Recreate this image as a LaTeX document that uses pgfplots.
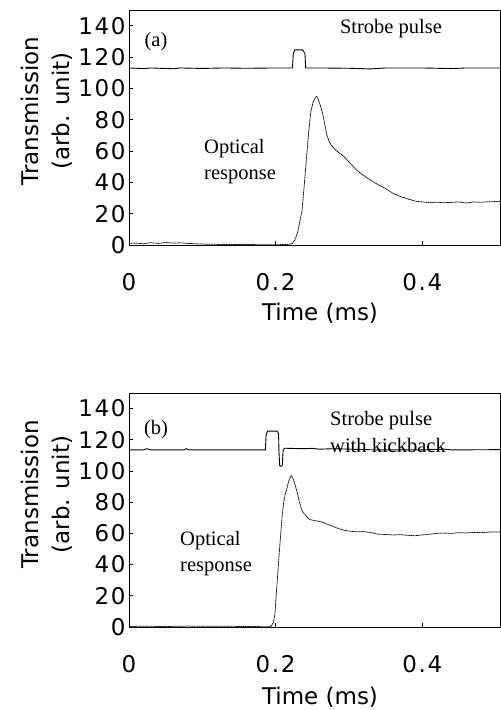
\documentclass[border=0pt]{standalone}
\usepackage{pgfplots}
\pgfplotsset{compat=1.18}
\usepackage{fontspec}
\setmainfont{DejaVu Sans}
\newfontfamily\serif{Liberation Serif}
\newfontfamily\tickfont[LetterSpace=7]{DejaVu Sans}
\newcommand\tf{\fontsize{23}{27}\selectfont}
\newcommand\tkf{\tickfont\fontsize{23}{27}\selectfont}
\newcommand\annf{\serif\fontsize{20.5}{26.5}\selectfont}

\pgfplotsset{
  panel/.style={
    anchor=south west, scale only axis,
    width=371pt,
    xmin=0, xmax=0.506, ymin=0, ymax=150,
    xtick={0,0.2,0.4}, ytick={0,20,...,140},
    xticklabels={0,0.2,0.4},
    xtick pos=bottom, ytick pos=left,
    tick align=inside, major tick length=4pt,
    axis line style={line width=0.9pt},
    tick style={line width=0.8pt, black},
    tick label style={font=\tkf},
    /pgf/number format/assume math mode=true,
    xticklabel style={yshift=-25pt},
  },
  strobe/.style={black, line width=0.9pt},
  optic/.style={black, line width=0.75pt, dash pattern=on 1.2pt off 0.5pt},
}

\begin{document}
\begin{tikzpicture}
\useasboundingbox (0,0) rectangle (501pt,710pt);

% (a)
\begin{axis}[panel, at={(129pt,465pt)}, height=235pt]
\addplot[strobe] coordinates {
(0,113) (0.02,112.6) (0.03,113) (0.06,112.5) (0.07,113) (0.1,112.7) (0.13,113)
(0.16,112.8) (0.2,113) (0.223,113) (0.224,122) (0.226,124.5) (0.237,124.5)
(0.240,122) (0.241,113) (0.26,113) (0.3,112.8) (0.33,112.4) (0.35,113) (0.4,113)
(0.44,112.6) (0.46,113) (0.506,113)
};
\addplot[optic] coordinates {
(0,1) (0.01,1.2) (0.02,0.8) (0.03,1.5) (0.04,1.0) (0.05,1.6) (0.06,1.2) (0.07,1.4)
(0.08,1.0) (0.09,0.8) (0.1,0.6) (0.12,0.4) (0.14,0.3) (0.16,0.3) (0.18,0.2) (0.2,0.2)
(0.215,0.3) (0.222,0.8) (0.226,3) (0.230,8) (0.233,15) (0.236,22) (0.239,38)
(0.242,55) (0.245,72) (0.248,85) (0.251,91) (0.254,94) (0.256,95) (0.258,93)
(0.261,89) (0.264,84) (0.267,77) (0.270,70) (0.273,66) (0.277,63) (0.281,61)
(0.286,59) (0.292,57) (0.298,54) (0.304,51) (0.31,48) (0.318,45) (0.326,42.5)
(0.334,40) (0.342,38) (0.35,36) (0.36,33) (0.37,31) (0.38,29.5) (0.39,28)
(0.40,27.5) (0.41,27) (0.42,27.3) (0.43,27) (0.44,27.2) (0.45,27.5) (0.46,26.8)
(0.47,27.5) (0.48,27.3) (0.49,27.6) (0.506,27.8)
};
\end{axis}

% (b)
\begin{axis}[panel, at={(129pt,83pt)}, height=234pt]
\addplot[strobe] coordinates {
(0,113.5) (0.02,113.5) (0.024,114.3) (0.03,113.5) (0.075,113.5) (0.078,114.3)
(0.082,113.5) (0.186,113.5) (0.187,123) (0.189,125.6) (0.202,125.6) (0.204,124)
(0.2045,113) (0.2055,103.5) (0.2075,103) (0.209,103.5) (0.2102,113) (0.212,114.6)
(0.22,114.5) (0.24,114.3) (0.25,114.5) (0.26,114) (0.28,114.3) (0.3,114)
(0.34,113.5) (0.4,113.5) (0.43,114) (0.44,113.5) (0.506,113.7)
};
\addplot[optic] coordinates {
(0,0.3) (0.02,0.5) (0.05,0.3) (0.08,0.6) (0.1,0.4) (0.13,0.5) (0.16,0.3) (0.19,0.2)
(0.194,0.5) (0.197,3) (0.199,8) (0.201,22) (0.203,35) (0.205,48) (0.207,60)
(0.209,72) (0.211,80) (0.213,85) (0.215,88) (0.217,92) (0.219,95) (0.221,97)
(0.223,96) (0.226,92) (0.229,87) (0.232,81) (0.235,76) (0.238,73) (0.242,71)
(0.246,69) (0.25,68.5) (0.256,68) (0.262,67.5) (0.27,66) (0.278,64.5) (0.286,63)
(0.294,62) (0.3,61.5) (0.31,61) (0.32,61.2) (0.33,60.5) (0.34,59.5) (0.35,59.3)
(0.36,59) (0.37,59.2) (0.38,58.8) (0.39,58.5) (0.4,59) (0.41,59.5) (0.42,60)
(0.43,60.2) (0.44,60) (0.45,60.5) (0.46,60.3) (0.47,60.6) (0.48,60.5) (0.49,60.8)
(0.506,61)
};
\end{axis}

% labels
\foreach \yc in {599,215.5} {
  \node[rotate=90, font=\tf] at (30pt,\yc pt) {Transmission};
  \node[rotate=90, font=\tf] at (62pt,\yc pt) {(arb. unit)};
}
\node[font=\tf] at (320pt,397pt) {Time (ms)};
\node[font=\tf] at (320pt,13pt) {Time (ms)};

\node[font=\annf] at (156pt,668pt) {(a)};
\node[font=\annf] at (391pt,681pt) {Strobe pulse};
\node[font=\annf, anchor=west, align=left, inner sep=0pt] at (204pt,548.5pt) {Optical\\response};

\node[font=\annf] at (156pt,280pt) {(b)};
\node[font=\annf, anchor=west, align=left, inner sep=0pt] at (330pt,278pt) {Strobe pulse\\with kickback};
\node[font=\annf, anchor=west, align=left, inner sep=0pt] at (180pt,156.5pt) {Optical\\response};
\end{tikzpicture}
\end{document}
